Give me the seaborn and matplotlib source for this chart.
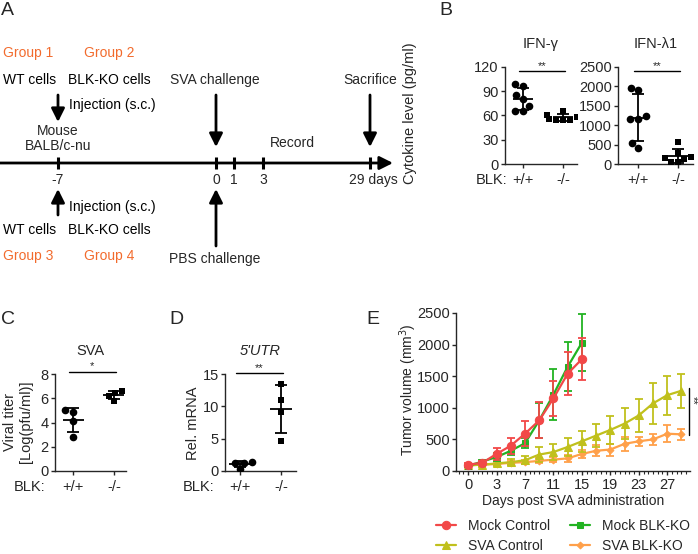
import numpy as np
import seaborn as sns
import matplotlib.pyplot as plt
from matplotlib.ticker import MultipleLocator

sns.set_style("ticks")
plt.rcParams['font.family'] = ['Liberation Sans', 'DejaVu Sans']
plt.rcParams['font.size'] = 10
plt.rcParams['axes.linewidth'] = 1.0
plt.rcParams['xtick.major.width'] = 1.0
plt.rcParams['ytick.major.width'] = 1.0
plt.rcParams['xtick.major.size'] = 3
plt.rcParams['ytick.major.size'] = 3
plt.rcParams['ytick.major.pad'] = 1.5
plt.rcParams['xtick.major.pad'] = 2
plt.rcParams['xtick.labelsize'] = 10.5
plt.rcParams['ytick.labelsize'] = 10.5

W, H = 698, 554
ORANGE_TXT = '#f26b2d'

# ---- panel A (timeline schematic) ----
timeline_labels = ['-7', '0', '1', '3', '29 days']
timeline_x = [58, 216, 234, 263, 370]

# ---- panel B: cytokines ----
ifng_wt = [99, 96, 85, 80, 72, 66, 66]
ifng_ko = [65, 60, 58, 56, 55, 55, 54]
ifnl_wt = [1970, 1900, 1230, 1170, 1170, 530, 400]
ifnl_ko = [570, 280, 190, 160, 130, 60, 40]

# ---- panel C: viral titer ----
titer_wt = [5.0, 4.9, 4.1, 2.8]
titer_ko = [6.6, 6.4, 6.2, 5.8]

# ---- panel D: 5'UTR ----
utr_wt = [1.4, 1.3, 1.2, 0.3]
utr_ko = [13.4, 11.0, 9.2, 4.7]

# ---- panel E: tumor volume ----
days = [0, 1, 3, 5, 7, 9, 11, 13, 15, 17, 19, 21, 23, 25, 27, 29]
mock_ctrl = [100, 130, 270, 400, 590, 800, 1150, 1540, 1770]
mock_ctrl_err = [25, 25, 90, 130, 200, 285, 275, 340, 330]
mock_ko = [80, 150, 220, 320, 440, 800, 1210, 1650, 2030]
mock_ko_err = [20, 20, 60, 60, 80, 275, 400, 390, 450]
sva_ctrl = [90, 100, 120, 140, 170, 260, 300, 380, 470, 560, 650, 750, 880, 1070, 1200, 1270]
sva_ctrl_err = [25, 30, 40, 50, 60, 115, 120, 140, 170, 185, 215, 245, 255, 330, 310, 270]
sva_ko = [90, 100, 110, 130, 140, 160, 180, 200, 270, 320, 340, 430, 470, 500, 590, 580]
sva_ko_err = [20, 20, 20, 30, 30, 40, 40, 50, 70, 85, 95, 110, 75, 90, 130, 90]


def box(l, t, r, b):
    return [l / W, 1 - b / H, (r - l) / W, (b - t) / H]


def fig_xy(x, y):
    return x / W, 1 - y / H


fig = plt.figure(figsize=(W / 100, H / 100), dpi=100)

# ------------------------------------------------------------ A
axA = fig.add_axes([0, 0, 1, 1])
axA.set_xlim(0, W)
axA.set_ylim(H, 0)
axA.axis('off')


def arrow(x0, y0, x1, y1):
    axA.annotate('', xy=(x1, y1), xytext=(x0, y0),
                 arrowprops=dict(arrowstyle='-|>', lw=2, color='black',
                                 mutation_scale=20, shrinkA=0, shrinkB=0))


arrow(0, 163, 393, 163)
for x, lab in zip(timeline_x, timeline_labels):
    axA.plot([x, x], [157, 169], color='black', lw=2.2, solid_capstyle='butt')
    axA.text(x + (3 if lab.endswith('days') else 0), 180, lab, ha='center', va='center', fontsize=10)

arrow(58, 95, 58, 122)
arrow(216, 95, 216, 147)
arrow(370, 95, 370, 147)
arrow(58, 215, 58, 189)
arrow(216, 246, 216, 189)

left_texts = [("Group 1", 3, 53, ORANGE_TXT), ("Group 2", 84, 53, ORANGE_TXT),
              ("WT cells", 3, 80, 'black'), ("BLK-KO cells", 68, 80, 'black'),
              ("Injection (s.c.)", 69, 105, 'black'),
              ("Injection (s.c.)", 69, 207, 'black'),
              ("WT cells", 3, 230, 'black'), ("BLK-KO cells", 68, 230, 'black'),
              ("Group 3", 3, 256, ORANGE_TXT), ("Group 4", 84, 256, ORANGE_TXT)]
for t, x, y, c in left_texts:
    axA.text(x, y, t, ha='left', va='center', color=c, fontsize=10)
center_texts = [("SVA challenge", 215, 80), ("Sacrifice", 370, 80),
                ("Mouse", 58, 131), ("BALB/c-nu", 58, 146), ("Record", 292, 143),
                ("PBS challenge", 215, 259)]
for t, x, y in center_texts:
    axA.text(x, y, t, ha='center', va='center', fontsize=10)

# panel letters
for lab, x, y in [('A', 1, 2), ('B', 439, 2), ('C', 1, 311), ('D', 169, 311), ('E', 366, 311)]:
    fig.text(*fig_xy(x, y), lab, fontsize=14, ha='left', va='top')


# ------------------------------------------------------------ B, C, D
def dot_panel(ax, wt, ko, top, step, title, sig, sig_y, italic=False):
    order = ['+/+', '-/-']
    sns.swarmplot(x=['+/+'] * len(wt), y=wt, order=order, ax=ax, color='black',
                  marker='o', size=5.5)
    sns.swarmplot(x=['-/-'] * len(ko), y=ko, order=order, ax=ax, color='black',
                  marker='s', size=5)
    means = [np.mean(wt), np.mean(ko)]
    sds = [np.std(wt, ddof=1), np.std(ko, ddof=1)]
    ax.errorbar([0, 1], means, yerr=sds, fmt='none', ecolor='black',
                elinewidth=1.3, capsize=4.5, capthick=1.3, zorder=5)
    ax.hlines(means, [-0.26, 0.74], [0.26, 1.26], color='black', lw=1.3, zorder=5)
    ax.set_ylim(0, top)
    ax.yaxis.set_major_locator(MultipleLocator(step))
    ax.set_xticks([0, 1])
    ax.set_xticklabels(order)
    ax.tick_params(axis='x', pad=3.5)
    ax.set_title(title, fontsize=10.5, pad=14, style='italic' if italic else 'normal')
    ax.plot([-0.1, 1.05], [sig_y, sig_y], color='black', lw=1, clip_on=False)
    ax.text(0.47, sig_y, sig, ha='center', va='bottom', fontsize=8)
    ax.set_xlabel('')
    sns.despine(ax=ax)


axB1 = fig.add_axes(box(505, 67, 577, 164))
dot_panel(axB1, ifng_wt, ifng_ko, 120, 30, 'IFN-γ', '**', 115)
axB1.set_xlim(-0.45, 1.35)
axB2 = fig.add_axes(box(618, 67, 693, 164))
dot_panel(axB2, ifnl_wt, ifnl_ko, 2500, 500, 'IFN-λ1', '**', 2400)
axB2.set_xlim(-0.5, 1.375)

axC = fig.add_axes(box(55, 374, 126, 471))
dot_panel(axC, titer_wt, titer_ko, 8, 2, 'SVA', '*', 8.2)
axC.set_xlim(-0.45, 1.3)
axD = fig.add_axes(box(225, 374, 296, 471))
dot_panel(axD, utr_wt, utr_ko, 15, 5, "5'UTR", '**', 15.2, italic=True)
axD.set_xlim(-0.37, 1.37)

fig.text(*fig_xy(410, 113), 'Cytokine level (pg/ml)', rotation=90, ha='center', va='center',
         fontsize=10.5)
fig.text(*fig_xy(18, 422), 'Viral titer\n[Log(pfu/ml)]', rotation=90, ha='center', va='center',
         linespacing=1.1, fontsize=10.5)
fig.text(*fig_xy(193, 423), 'Rel. mRNA', rotation=90, ha='center', va='center', fontsize=10.5)
for x, y in [(492, 180), (30, 487), (199, 487)]:
    fig.text(*fig_xy(x, y), 'BLK:', ha='center', va='center', fontsize=10.5)

# ------------------------------------------------------------ E
axE = fig.add_axes(box(456, 313, 690, 471))
series = [("SVA BLK-KO", sva_ko, sva_ko_err, '#ffa04a', 'D', 3.5),
          ("SVA Control", sva_ctrl, sva_ctrl_err, '#c0c01c', '^', 5.5),
          ("Mock BLK-KO", mock_ko, mock_ko_err, '#22b322', 's', 5),
          ("Mock Control", mock_ctrl, mock_ctrl_err, '#f24848', 'o', 6)]
for name, vals, err, col, mk, ms in series:
    idx = np.arange(len(vals))
    sns.lineplot(x=idx, y=vals, ax=axE, color=col, marker=mk, markersize=ms,
                 markeredgecolor=col, linewidth=1.6, label=name)
    axE.errorbar(idx, vals, yerr=err, fmt='none', ecolor=col, elinewidth=1.3,
                 capsize=3, capthick=1.3)
axE.set_ylim(0, 2500)
axE.yaxis.set_major_locator(MultipleLocator(500))
axE.set_xlim(-0.85, 15.6)
axE.set_xticks(range(0, len(days), 2))
axE.set_xticklabels([str(d) for d in days[::2]])
axE.xaxis.set_minor_locator(MultipleLocator(1 / 3))
axE.tick_params(axis='x', which='minor', length=2, width=0.8)
sns.despine(ax=axE)
axE.plot([15.5, 15.5], [570, 1310], color='black', lw=1, clip_on=False)
axE.text(15.82, 1120, '**', rotation=270, ha='center', va='center', fontsize=8)
axE.set_xlabel('')
axE.set_ylabel('')
fig.text(*fig_xy(573, 501), 'Days post SVA administration', ha='center', va='center')
fig.text(*fig_xy(408, 390), 'Tumor volume (mm$^3$)', rotation=90, ha='center', va='center')

handles, labels = axE.get_legend_handles_labels()
axE.get_legend().remove()
hmap = dict(zip(labels, handles))
leg_order = ["Mock Control", "SVA Control", "Mock BLK-KO", "SVA BLK-KO"]
fig.legend([hmap[k] for k in leg_order], leg_order, ncol=2, frameon=False,
           loc='upper center', bbox_to_anchor=fig_xy(563, 509),
           handlelength=1.45, handletextpad=0.9, columnspacing=1.4,
           labelspacing=0.45, fontsize=10, borderpad=0.2)

fig.savefig('out.png', dpi=100)
